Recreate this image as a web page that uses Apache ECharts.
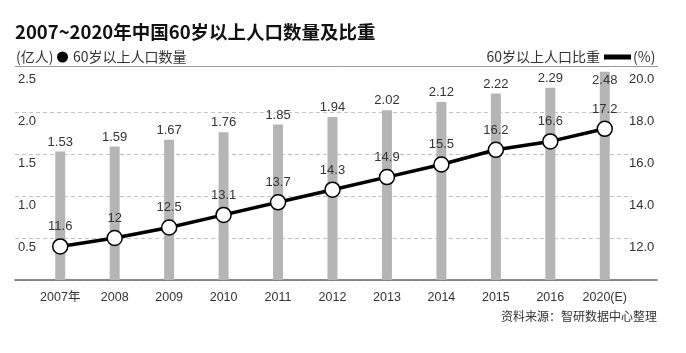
<!DOCTYPE html>
<html>
<head>
<meta charset="utf-8">
<script src="https://cdn.jsdelivr.net/npm/echarts@6/dist/echarts.min.js"></script>
<style>
html, body { margin: 0; padding: 0; background: #fff; }
#chart { width: 686px; height: 353px; }
</style>
</head>
<body>
<div id="chart"></div>
<script>
// 数据
const years = ['2007年', '2008', '2009', '2010', '2011', '2012', '2013', '2014', '2015', '2016', '2020(E)']
const population = [1.53, 1.59, 1.67, 1.76, 1.85, 1.94, 2.02, 2.12, 2.22, 2.29, 2.48] // 亿人
const share = [11.6, 12, 12.5, 13.1, 13.7, 14.3, 14.9, 15.5, 16.2, 16.6, 17.2] // %
const leftRange = [0, 2.5, 0.5]
const rightRange = [10, 20, 2]

const font = 'Liberation Sans, Arial, Noto Sans CJK SC, sans-serif'
const cjk = 'Noto Sans CJK SC, sans-serif'
const textColor = '#333'
const gridColor = '#c4c4c4'

let chart = echarts.init(document.getElementById('chart'))

// 最后一根柱子的标签放在柱内
let barData = population.map((v, i) => i === population.length - 1
  ? { value: v, label: { position: 'insideTop', distance: 2 } }
  : v)

let option = {
  animation: false,
  textStyle: { fontFamily: font },
  title: [
    {
      text: '2007~2020年中国60岁以上人口数量及比重',
      left: 15,
      top: 23,
      padding: 0,
      textStyle: { fontSize: 18.5, fontWeight: 'bold', color: '#111', fontFamily: cjk }
    },
    {
      text: '(亿人)',
      left: 16,
      top: 50,
      padding: 0,
      textStyle: { fontSize: 14, fontWeight: 'normal', color: textColor, fontFamily: cjk }
    },
    {
      text: '(%)',
      left: 633,
      top: 50,
      padding: 0,
      textStyle: { fontSize: 14, fontWeight: 'normal', color: textColor, fontFamily: cjk }
    },
    {
      text: '资料来源：智研数据中心整理',
      right: 29,
      top: 310,
      padding: 0,
      textStyle: { fontSize: 12, fontWeight: 'normal', color: textColor, fontFamily: cjk }
    }
  ],
  legend: [
    {
      data: [{ name: '60岁以上人口数量', icon: 'circle', itemStyle: { color: '#000' } }],
      left: 57,
      top: 50,
      padding: 0,
      itemWidth: 11,
      itemHeight: 11,
      selectedMode: false,
      textStyle: { fontSize: 14, color: textColor, fontFamily: cjk }
    },
    {
      data: [{ name: '60岁以上人口比重', icon: 'rect', itemStyle: { color: '#000' } }],
      right: 55,
      top: 50,
      padding: 0,
      align: 'right',
      itemWidth: 25,
      itemHeight: 3,
      selectedMode: false,
      textStyle: { fontSize: 14, color: textColor, fontFamily: cjk }
    }
  ],
  graphic: [
    {
      type: 'line',
      shape: { x1: 15, y1: 66.5, x2: 658, y2: 66.5 },
      style: { stroke: '#999', lineWidth: 1 }
    }
  ],
  grid: [
    // 网格线
    { left: 15, right: 54, top: 70, bottom: 73 },
    // 柱线
    { left: 33, right: 54, top: 70, bottom: 73 },
    // 底部轴线
    { left: 15, right: 29, top: 70, bottom: 73 }
  ],
  xAxis: [
    { type: 'value', gridIndex: 0, min: 0, max: 1, show: false },
    {
      type: 'category',
      gridIndex: 1,
      data: years,
      axisLine: { show: false },
      axisTick: { show: false },
      axisLabel: {
        interval: 0,
        color: textColor,
        fontSize: 12.5,
        margin: 11,
        fontFamily: 'Liberation Sans, Noto Sans CJK SC, sans-serif'
      }
    },
    {
      type: 'value',
      gridIndex: 2,
      min: 0,
      max: 1,
      axisLine: { show: true, onZero: false, lineStyle: { color: '#666', width: 1.5 } },
      axisTick: { show: false },
      axisLabel: { show: false },
      splitLine: { show: false }
    }
  ],
  yAxis: [
    {
      type: 'value',
      gridIndex: 0,
      min: leftRange[0],
      max: leftRange[1],
      interval: leftRange[2],
      axisLine: { show: false },
      axisTick: { show: false },
      axisLabel: {
        inside: true,
        margin: 3,
        showMinLabel: false,
        verticalAlign: 'top',
        padding: [3, 0, 0, 0],
        color: textColor,
        fontSize: 13,
        formatter: v => v.toFixed(1)
      },
      splitLine: {
        show: true,
        lineStyle: { color: [gridColor, gridColor, gridColor, gridColor, gridColor, 'rgba(0,0,0,0)'], type: [4, 3] }
      }
    },
    {
      type: 'value',
      gridIndex: 0,
      position: 'right',
      min: rightRange[0],
      max: rightRange[1],
      interval: rightRange[2],
      axisLine: { show: false },
      axisTick: { show: false },
      axisLabel: {
        margin: -3,
        showMinLabel: false,
        verticalAlign: 'top',
        padding: [3, 0, 0, 0],
        color: textColor,
        fontSize: 13,
        formatter: v => v.toFixed(1)
      },
      splitLine: { show: false }
    },
    { type: 'value', gridIndex: 1, min: leftRange[0], max: leftRange[1], interval: leftRange[2], show: false },
    { type: 'value', gridIndex: 1, min: rightRange[0], max: rightRange[1], interval: rightRange[2], show: false },
    { type: 'value', gridIndex: 2, min: 0, max: 1, show: false }
  ],
  series: [
    {
      name: '60岁以上人口数量',
      type: 'bar',
      xAxisIndex: 1,
      yAxisIndex: 2,
      data: barData,
      barWidth: 10,
      itemStyle: { color: '#b5b5b5' },
      label: {
        show: true,
        position: 'top',
        distance: 3,
        color: textColor,
        fontSize: 13
      }
    },
    {
      name: '60岁以上人口比重',
      type: 'line',
      xAxisIndex: 1,
      yAxisIndex: 3,
      data: share,
      z: 5,
      symbol: 'circle',
      symbolSize: 15,
      lineStyle: { color: '#000', width: 3.5 },
      itemStyle: { color: '#fff', borderColor: '#000', borderWidth: 1.5 },
      label: {
        show: true,
        position: 'top',
        distance: 5,
        color: textColor,
        fontSize: 13
      }
    }
  ]
}

chart.setOption(option)
</script>
</body>
</html>
